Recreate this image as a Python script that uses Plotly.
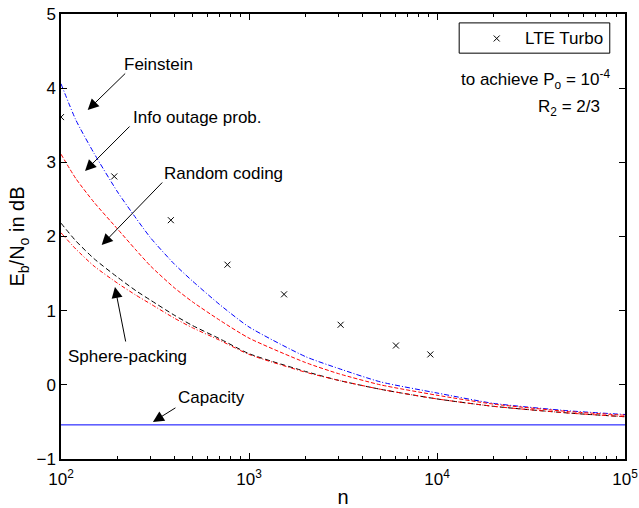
import plotly.graph_objects as go

n_grid = [100, 120, 150, 200, 250, 300, 400, 500, 700, 1000, 2000, 3000, 5000, 10000, 20000, 50000, 100000]
feinstein = [4.06, 3.57, 3.12, 2.60, 2.25, 1.98, 1.63, 1.40, 1.08, 0.78, 0.38, 0.22, 0.04, -0.11, -0.25, -0.35, -0.40]
info_outage = [3.11, 2.78, 2.46, 2.10, 1.82, 1.60, 1.31, 1.12, 0.87, 0.63, 0.30, 0.15, 0.00, -0.14, -0.26, -0.36, -0.41]
random_coding = [2.18, 1.94, 1.70, 1.45, 1.27, 1.14, 0.94, 0.80, 0.62, 0.42, 0.18, 0.06, -0.06, -0.19, -0.29, -0.38, -0.43]
sphere_packing = [2.05, 1.83, 1.60, 1.37, 1.21, 1.09, 0.90, 0.77, 0.60, 0.41, 0.17, 0.06, -0.06, -0.19, -0.29, -0.38, -0.43]
capacity_db = -0.54

lte_n = [100, 192, 384, 768, 1536, 3072, 6048, 9216]
lte_db = [3.61, 2.81, 2.22, 1.62, 1.22, 0.81, 0.53, 0.41]

FONT = "Liberation Sans, Arial, Helvetica, sans-serif"
FS = 17

fig = go.Figure()
fig.add_trace(go.Scatter(x=n_grid, y=feinstein, mode="lines", showlegend=False,
                         line=dict(color="#0000ff", width=1, dash="5px,2px,1px,2px",
                                   shape="spline", smoothing=0.6)))
fig.add_trace(go.Scatter(x=n_grid, y=info_outage, mode="lines", showlegend=False,
                         line=dict(color="#ff0000", width=1, dash="4px,2px",
                                   shape="spline", smoothing=0.6)))
fig.add_trace(go.Scatter(x=n_grid, y=random_coding, mode="lines", showlegend=False,
                         line=dict(color="#000000", width=1, dash="5px,3px",
                                   shape="spline", smoothing=0.6)))
fig.add_trace(go.Scatter(x=n_grid, y=sphere_packing, mode="lines", showlegend=False,
                         line=dict(color="#ff0000", width=1, dash="4px,2px,1px,2px",
                                   shape="spline", smoothing=0.6)))
fig.add_trace(go.Scatter(x=[n_grid[0], n_grid[-1]], y=[capacity_db, capacity_db], mode="lines",
                         showlegend=False, line=dict(color="#0000ff", width=1)))
fig.add_trace(go.Scatter(x=lte_n, y=lte_db, mode="markers", name="LTE Turbo", showlegend=False,
                         marker=dict(symbol="x-thin", size=6, color="black",
                                     line=dict(color="black", width=1))))

# legend key marker (drawn on an overlay axis spanning the plot area)
fig.add_trace(go.Scatter(x=[0.7725], y=[0.945], mode="markers", showlegend=False,
                         xaxis="x2", yaxis="y2", hoverinfo="skip",
                         marker=dict(symbol="x-thin", size=6, color="black",
                                     line=dict(color="black", width=1))))
fig.add_shape(type="rect", xref="paper", yref="paper", x0=0.706, x1=0.973, y0=0.912, y1=0.980,
              line=dict(color="black", width=1), fillcolor="white", layer="below")
fig.add_annotation(x=0.9645, y=0.946, xref="paper", yref="paper", xanchor="right", yanchor="middle",
                   text="LTE Turbo", showarrow=False, font=dict(family=FONT, size=FS, color="black"))


def arrow(tip_x_log, tip_y, ax, ay):
    fig.add_annotation(x=tip_x_log, y=tip_y, xref="x", yref="y", text="", showarrow=True,
                       ax=ax, ay=ay, arrowhead=2, arrowsize=2.2, arrowwidth=1, arrowcolor="black")


def label(x_log, y, txt):
    fig.add_annotation(x=x_log, y=y, xref="x", yref="y", text=txt, showarrow=False,
                       font=dict(family=FONT, size=FS, color="black"))


arrow(2.142, 3.705, 39, -38)
arrow(2.128, 2.883, 46, -46)
arrow(2.2165, 1.885, 62, -64)
arrow(2.287, 1.319, 11, 56)
arrow(2.489, -0.50, 24, -15)

label(2.521, 4.325, "Feinstein")
label(2.726, 3.611, "Info outage prob.")
label(2.864, 2.856, "Random coding")
label(2.354, 0.388, "Sphere-packing")
label(2.798, -0.164, "Capacity")

fig.add_annotation(x=0.977, y=0.852, xref="paper", yref="paper", xanchor="right", yanchor="middle",
                   text="to achieve P<sub>o</sub> = 10<sup>-4</sup>", showarrow=False,
                   font=dict(family=FONT, size=FS, color="black"))
fig.add_annotation(x=0.959, y=0.789, xref="paper", yref="paper", xanchor="right", yanchor="middle",
                   text="R<sub>2</sub> = 2/3", showarrow=False,
                   font=dict(family=FONT, size=FS, color="black"))

fig.update_layout(
    width=639, height=508,
    margin=dict(l=61, r=14, t=14, b=49),
    paper_bgcolor="white", plot_bgcolor="white",
    font=dict(family=FONT, size=FS, color="black"),
    showlegend=False,
    xaxis=dict(type="log", range=[2, 5], showgrid=False, zeroline=False, automargin=False,
               showline=True, linecolor="black", linewidth=1.5, mirror="allticks",
               ticks="inside", ticklen=6, tickcolor="black", ticklabelstandoff=4,
               ticklabeloverflow="allow",
               tickvals=[100, 1000, 10000, 100000],
               ticktext=["10<sup>2</sup>", "10<sup>3</sup>", "10<sup>4</sup>", "10<sup>5</sup>"],
               minor=dict(ticks="inside", ticklen=3, tickcolor="black", dtick="D1", showgrid=False),
               title=dict(text="n", standoff=11)),
    yaxis=dict(range=[-1, 5], showgrid=False, zeroline=False, automargin=False,
               showline=True, linecolor="black", linewidth=1.5, mirror="allticks",
               ticks="inside", ticklen=6, tickcolor="black", dtick=1,
               ticklabeloverflow="allow",
               title=dict(text="E<sub>b</sub>/N<sub>o</sub> in dB", standoff=6)),
    xaxis2=dict(overlaying="x", range=[0, 1], visible=False, fixedrange=True),
    yaxis2=dict(overlaying="y", range=[0, 1], visible=False, fixedrange=True),
)

# remove the browser's default 8px page margin so the 639x508 figure fills the window exactly
fig.write_html("out.html", config={"displayModeBar": False},
               post_script="document.body.style.margin='0px';document.body.style.overflow='hidden';")
